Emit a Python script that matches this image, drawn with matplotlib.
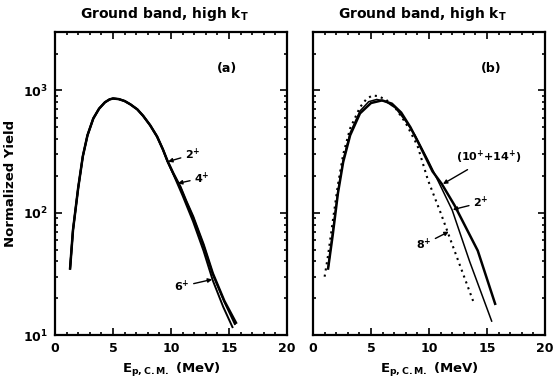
import matplotlib
matplotlib.use("Agg")
import matplotlib.pyplot as plt
from matplotlib.ticker import MultipleLocator, LogLocator, NullFormatter

# panel (a): ground band, spins 2+, 4+, 6+
e_2 = [1.3, 1.55, 2.0, 2.4, 2.8, 3.3, 3.8, 4.3, 4.7, 5.0, 5.5, 6.0, 6.5, 7.1, 7.6, 8.2, 8.8, 9.3, 9.7, 10.2, 10.8, 11.3, 11.9, 12.8, 13.6, 14.6, 15.6]
y_2 = [35, 72, 160, 290, 430, 590, 710, 800, 845, 860, 850, 820, 770, 700, 620, 520, 420, 330, 265, 210, 163, 125, 93, 55, 32, 19, 12.6]
e_4 = [1.3, 1.55, 2.0, 2.4, 2.8, 3.3, 3.8, 4.3, 4.7, 5.0, 5.5, 6.0, 6.5, 7.1, 7.6, 8.2, 8.8, 9.3, 9.7, 10.2, 10.8, 11.3, 11.9, 12.8, 13.6, 14.6, 15.5]
y_4 = [35, 72, 160, 290, 430, 590, 710, 800, 845, 860, 850, 820, 770, 700, 620, 520, 420, 330, 264, 209, 162, 124, 92, 54, 31.5, 18.7, 12.3]
e_6 = [1.3, 1.55, 2.0, 2.4, 2.8, 3.3, 3.8, 4.3, 4.7, 5.0, 5.5, 6.0, 6.5, 7.1, 7.6, 8.2, 8.8, 9.3, 9.7, 10.2, 11.0, 11.9, 12.8, 13.6, 14.5, 15.3]
y_6 = [35, 72, 160, 290, 430, 590, 710, 800, 845, 860, 850, 820, 770, 700, 620, 520, 420, 330, 263, 207, 138, 85, 49, 28, 17, 11.6]

# panel (b): 2+, 8+ and (10+ + 14+)
e_b2 = [1.3, 1.7, 2.15, 2.6, 3.2, 4.05, 4.8, 5.5, 6.3, 7.1, 8.0, 8.8, 9.9, 11.0, 12.0, 13.5, 15.4]
y_b2 = [35, 70, 150, 270, 450, 680, 810, 845, 810, 720, 560, 430, 270, 165, 105, 40, 13]
e_b8 = [1.0, 1.3, 1.7, 2.15, 2.6, 3.2, 4.05, 4.6, 5.1, 5.6, 6.3, 7.1, 8.0, 9.0, 9.9, 11.0, 12.0, 13.8]
y_b8 = [30, 45, 85, 170, 300, 490, 730, 850, 910, 900, 840, 720, 540, 355, 186, 100, 55, 19]
e_b1014 = [1.3, 1.7, 2.15, 2.6, 3.2, 4.05, 5.0, 5.95, 6.8, 7.6, 8.4, 9.2, 10.3, 11.1, 12.2, 14.2, 15.7]
y_b1014 = [35, 66, 145, 260, 430, 650, 790, 830, 780, 660, 500, 355, 218, 172, 115, 49, 18]

title = "Ground band, high k$_\\mathbf{T}$"
xlabel = "E$_{\\mathbf{p,C.M.}}$ (MeV)"

plt.rcParams["font.family"] = "DejaVu Sans"
plt.rcParams["font.weight"] = "bold"
plt.rcParams["mathtext.default"] = "bf"

fig = plt.figure(figsize=(5.55, 3.8), dpi=100)
ax_a = fig.add_axes([0.0991, 0.1184, 0.418, 0.797])
ax_b = fig.add_axes([0.564, 0.1184, 0.418, 0.797])

for ax in (ax_a, ax_b):
    ax.set_yscale("log")
    ax.set_xlim(0, 20)
    ax.set_ylim(10, 3000)
    ax.xaxis.set_major_locator(MultipleLocator(5))
    ax.xaxis.set_minor_locator(MultipleLocator(1))
    ax.yaxis.set_major_locator(LogLocator(base=10))
    ax.yaxis.set_minor_locator(LogLocator(base=10, subs=range(2, 10)))
    ax.yaxis.set_minor_formatter(NullFormatter())
    ax.tick_params(which="both", direction="in", top=True, right=True, width=1.2)
    ax.tick_params(which="major", length=5, labelsize=9, pad=5)
    ax.tick_params(which="minor", length=2.5)
    for s in ax.spines.values():
        s.set_linewidth(1.6)
    ax.set_xlabel(xlabel, fontsize=9.5, fontweight="bold", labelpad=4)
    ax.set_title(title, fontsize=10, fontweight="bold", x=0.47, pad=10)

ax_b.tick_params(axis="y", labelleft=False)
ax_a.set_ylabel("Normalized Yield", fontsize=9.5, fontweight="bold", labelpad=4)

# panel (a)
ax_a.plot(e_2, y_2, color="k", lw=1.8)
ax_a.plot(e_4, y_4, color="k", lw=1.4)
ax_a.plot(e_6, y_6, color="k", lw=1.4)
ax_a.text(0.74, 0.88, "(a)", transform=ax_a.transAxes, fontsize=9, ha="center", va="center")

arrow = dict(arrowstyle="-|>", lw=1.0, color="k", mutation_scale=6, shrinkA=1, shrinkB=0)
ax_a.annotate("$2^{+}$", xy=(9.75, 262), xytext=(11.2, 300), fontsize=8, ha="left", va="center", arrowprops=arrow)
ax_a.annotate("$4^{+}$", xy=(10.6, 174), xytext=(12.0, 192), fontsize=8, ha="left", va="center", arrowprops=arrow)
ax_a.annotate("$6^{+}$", xy=(13.55, 28.5), xytext=(11.6, 25), fontsize=8, ha="right", va="center", arrowprops=arrow)

# panel (b)
ax_b.plot(e_b1014, y_b1014, color="k", lw=1.8)
ax_b.plot(e_b2, y_b2, color="k", lw=1.1)
ax_b.plot(e_b8, y_b8, color="k", lw=1.5, linestyle=(0, (1, 2)))
ax_b.text(0.77, 0.88, "(b)", transform=ax_b.transAxes, fontsize=9, ha="center", va="center")

ax_b.annotate("(10$^{+}$+14$^{+}$)", xy=(11.2, 172), xytext=(12.3, 283), fontsize=8, ha="left", va="center", arrowprops=arrow)
ax_b.annotate("$2^{+}$", xy=(12.05, 106), xytext=(13.8, 121), fontsize=8, ha="left", va="center", arrowprops=arrow)
ax_b.annotate("$8^{+}$", xy=(11.7, 70), xytext=(10.2, 55), fontsize=8, ha="right", va="center", arrowprops=arrow)

fig.savefig("out.png", dpi=100)
